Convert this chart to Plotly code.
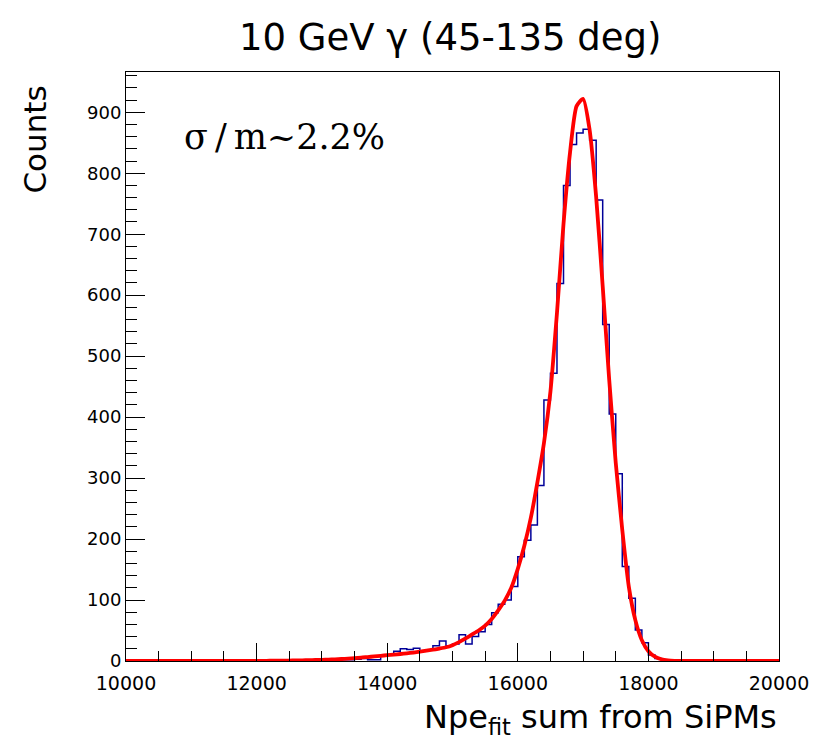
import numpy as np
import plotly.graph_objects as go

# ---- data ----
x_min, x_max, n_bins = 10000, 20000, 100

counts = [
    0, 0, 0, 0, 0, 0, 0, 0, 0, 0,          # 10000-10900
    0, 0, 0, 0, 0, 0, 0, 0, 0, 0,          # 11000-11900
    0, 0, 0, 2, 1, 0, 1, 0, 1, 0,          # 12000-12900
    2, 1, 1, 2, 2, 3, 4, 2, 2, 8,          # 13000-13900
    10, 16, 20, 19, 21, 16, 18, 25, 33, 25,  # 14000-14900
    28, 43, 28, 40, 48, 60, 79, 93, 100, 122,  # 15000-15900
    171, 198, 223, 288, 428, 472, 619, 780, 847, 866,  # 16000-16900
    872, 854, 756, 552, 405, 307, 155, 103, 51, 30,  # 17000-17900
    10, 4, 2, 1, 0, 0, 0, 0, 0, 0,          # 18000-18900
    0, 0, 0, 0, 0, 0, 0, 0, 0, 0,          # 19000-19900
]

# fit curve sampled at 10000, 10100, ..., 20000 (101 points)
fit_values = [
    0.0, 0.0, 0.0, 0.0, 0.0, 0.0, 0.0, 0.0, 0.0, 0.0,       # 10000-10900
    0.1, 0.1, 0.1, 0.1, 0.15, 0.15, 0.2, 0.2, 0.25, 0.25,   # 11000-11900
    0.3, 0.35, 0.4, 0.5, 0.6, 0.75, 0.9, 1.1, 1.3, 1.6,     # 12000-12900
    1.9, 2.3, 2.8, 3.3, 4.0, 4.8, 5.5, 6.5, 7.5, 8.5,       # 13000-13900
    9.5, 10.4, 11.5, 12.6, 13.9, 15.3, 16.9, 18.5, 20.4, 22.5,  # 14000-14900
    26, 31, 37, 43.5, 50, 58, 69, 83, 99, 120,              # 15000-15900
    151, 189, 235, 293, 357, 442, 571, 717, 834, 910,       # 16000-16900
    922, 871, 761, 615, 461, 325, 215, 122, 67, 34,         # 17000-17900
    16, 7, 2.8, 1.0, 0.3, 0.0, 0.0, 0.0, 0.0, 0.0,          # 18000-18900
    0.0, 0.0, 0.0, 0.0, 0.0, 0.0, 0.0, 0.0, 0.0, 0.0,       # 19000-19900
    0.0,                                                    # 20000
]

title_text = "10 GeV γ (45-135 deg)"
x_title = "Npe<sub>fit</sub> sum from SiPMs"
y_title = "Counts"
note_text = "σ\u2009/\u2009m~2.2%"
y_max = 966

# ---- build traces ----
edges = np.linspace(x_min, x_max, n_bins + 1)
hist_x = list(edges)
hist_y = list(counts) + [counts[-1]]
fit_x = np.linspace(x_min, x_max, len(fit_values))

fig = go.Figure()
fig.add_trace(go.Scatter(
    x=hist_x, y=hist_y, mode="lines", line=dict(shape="hv", color="#000099", width=1.5),
    hoverinfo="skip", showlegend=False))
fig.add_trace(go.Scatter(
    x=fit_x, y=fit_values, mode="lines",
    line=dict(color="#ff0000", width=3.8, shape="spline", smoothing=0.6),
    hoverinfo="skip", showlegend=False))

font_main = "DejaVu Sans"
L, R, T, B = 126, 38, 72, 78
W, H = 821, 739
pw, ph = W - L - R, H - T - B

def px_to_paper(px, py):
    return (px - L) / pw, (H - B - py) / ph

fig.update_layout(
    width=W, height=H,
    margin=dict(l=L, r=R, t=T, b=B, pad=0),
    paper_bgcolor="white", plot_bgcolor="white",
    font=dict(family=font_main, color="black"),
    showlegend=False,
)

fig.update_xaxes(
    range=[x_min, x_max], showgrid=False, zeroline=False,
    showline=True, linecolor="black", linewidth=1, mirror=True,
    ticks="inside", ticklen=18, tickwidth=1, tickcolor="black",
    tick0=10000, dtick=2000, tickformat="d", ticklabelstandoff=5,
    tickfont=dict(family=font_main, size=19, color="black"),
    minor=dict(ticks="inside", dtick=500, ticklen=10, tickwidth=1, tickcolor="black", showgrid=False),
)
fig.update_yaxes(
    range=[0, y_max], showgrid=False, zeroline=False,
    showline=True, linecolor="black", linewidth=1, mirror=True,
    ticks="inside", ticklen=19, tickwidth=1, tickcolor="black",
    tick0=0, dtick=100,
    tickfont=dict(family=font_main, size=18, color="black"),
    minor=dict(ticks="inside", dtick=20, ticklen=11, tickwidth=1, tickcolor="black", showgrid=False),
)

ax, ay = px_to_paper(452, 37)
fig.add_annotation(text=title_text, x=ax, y=ay, xref="paper", yref="paper",
                   xanchor="center", yanchor="middle", showarrow=False,
                   font=dict(family=font_main, size=37, color="black"))
ax, ay = px_to_paper(783, 719)
fig.add_annotation(text=x_title, x=ax, y=ay, xref="paper", yref="paper",
                   xanchor="right", yanchor="middle", showarrow=False,
                   font=dict(family=font_main, size=32, color="black"))
ax, ay = px_to_paper(34, 84)
fig.add_annotation(text=y_title, x=ax, y=ay, xref="paper", yref="paper",
                   xanchor="center", yanchor="top", textangle=-90, showarrow=False,
                   font=dict(family=font_main, size=31, color="black"))
ax, ay = px_to_paper(182, 137)
fig.add_annotation(text=note_text, x=ax, y=ay, xref="paper", yref="paper",
                   xanchor="left", yanchor="middle", showarrow=False,
                   font=dict(family="DejaVu Serif", size=35, color="black"))

fig.write_html("out.html")
